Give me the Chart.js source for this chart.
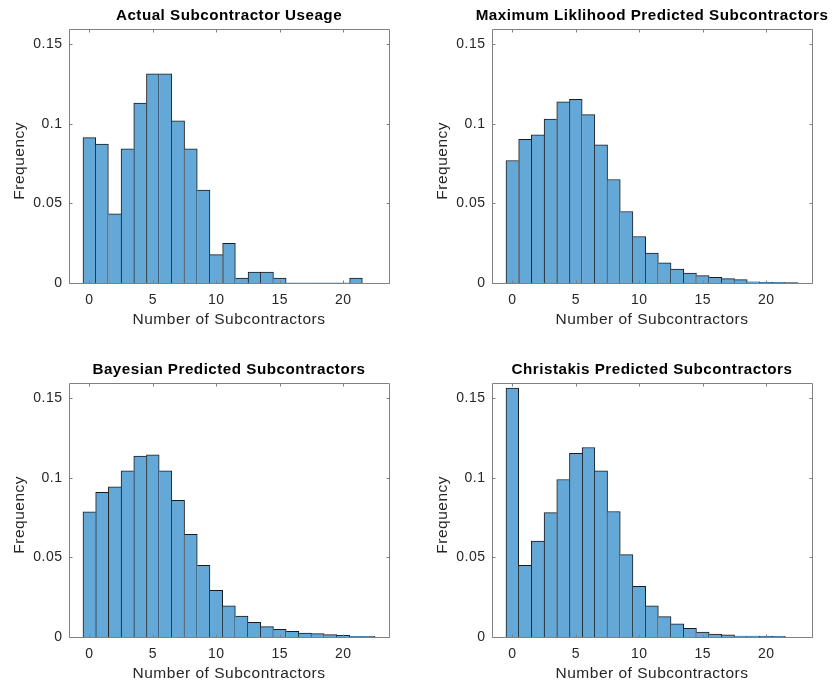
<!DOCTYPE html>
<html>
<head>
<meta charset="utf-8">
<script src="https://cdn.jsdelivr.net/npm/chart.js@4/dist/chart.umd.min.js"></script>
<style>
  body { margin: 0; background: #fff; }
  #wrap { position: relative; width: 833px; height: 687px; overflow: hidden; }
  #wrap canvas { position: absolute; }
</style>
</head>
<body>
<div id="wrap">
  <canvas id="c1"></canvas>
  <canvas id="c2"></canvas>
  <canvas id="c3"></canvas>
  <canvas id="c4"></canvas>
</div>
<script>
// bin centres (integer counts) and frequencies
const bins = [0, 1, 2, 3, 4, 5, 6, 7, 8, 9, 10, 11, 12, 13, 14, 15, 16, 17, 18, 19, 20, 21, 22];

const actualUse = [0.0913, 0.0873, 0.0435, 0.0842, 0.1130, 0.1314, 0.1314, 0.1019, 0.0842, 0.0583,
  0.0178, 0.0249, 0.0031, 0.0069, 0.0069, 0.0031, 0, 0, 0, 0, 0, 0.0031];

const mlPredicted = [0.0769, 0.0902, 0.0930, 0.1030, 0.1138, 0.1153, 0.1057, 0.0867, 0.0650, 0.0449,
  0.0292, 0.0188, 0.0127, 0.0088, 0.0063, 0.0046, 0.0036, 0.0027, 0.0021, 0.0008, 0.0004, 0.0004, 0.0002];

const bayesPredicted = [0.0786, 0.0909, 0.0943, 0.1043, 0.1136, 0.1144, 0.1043, 0.0859, 0.0645, 0.0450,
  0.0293, 0.0195, 0.0132, 0.0092, 0.0065, 0.0048, 0.0036, 0.0025, 0.0021, 0.0015, 0.0010, 0.0004, 0.0004];

const christakisPredicted = [0.1563, 0.0450, 0.0603, 0.0781, 0.0989, 0.1154, 0.1190, 0.1043, 0.0788, 0.0517,
  0.0318, 0.0195, 0.0128, 0.0082, 0.0054, 0.0031, 0.0019, 0.0013, 0.0006, 0.0006, 0.0004, 0.0004];

const xTicks = [0, 5, 10, 15, 20];
const yTicks = [0, 0.05, 0.1, 0.15];
const yTickLabels = ['0', '0.05', '0.1', '0.15'];

const panels = [
  { id: 'c1', title: 'Actual Subcontractor Useage', data: actualUse, left: 69, top: 29 },
  { id: 'c2', title: 'Maximum Liklihood Predicted Subcontractors', data: mlPredicted, left: 492, top: 29 },
  { id: 'c3', title: 'Bayesian Predicted Subcontractors', data: bayesPredicted, left: 69, top: 383 },
  { id: 'c4', title: 'Christakis Predicted Subcontractors', data: christakisPredicted, left: 492, top: 383 }
];

const PLOT_W = 320, PLOT_H = 254, SIDE = 69, HEAD = 28, FOOT = 60;
const FONT = '"Liberation Sans", Arial, Helvetica, sans-serif';
const TEXT = '#262626';
const AXIS = '#808080';
const FILL = '#64a8d8';
const EDGE = '#1a1a1a';
const TICK_LEN = 3;

// matlab text is a bit looser than canvas arial
const spacing = {
  id: 'spacing',
  beforeDraw(chart) { chart.ctx.letterSpacing = '0.5px'; }
};

// matlab style box with inward ticks on all four sides
const matlabBox = {
  id: 'matlabBox',
  afterDatasetsDraw(chart) {
    const { ctx, chartArea: a } = chart;
    const xs = chart.scales.x, ys = chart.scales.y;
    const L = Math.round(a.left) + 0.5, R = Math.round(a.right) + 0.5;
    const T = Math.round(a.top) + 0.5, B = Math.round(a.bottom) + 0.5;
    ctx.save();
    ctx.strokeStyle = AXIS;
    ctx.lineWidth = 1;
    ctx.beginPath();
    ctx.rect(L, T, R - L, B - T);
    xTicks.forEach(v => {
      const px = Math.round(xs.getPixelForValue(v)) + 0.5;
      ctx.moveTo(px, B); ctx.lineTo(px, B - TICK_LEN);
      ctx.moveTo(px, T); ctx.lineTo(px, T + TICK_LEN);
    });
    yTicks.forEach(v => {
      const py = Math.round(ys.getPixelForValue(v)) + 0.5;
      ctx.moveTo(L, py); ctx.lineTo(L + TICK_LEN, py);
      ctx.moveTo(R, py); ctx.lineTo(R - TICK_LEN, py);
    });
    ctx.stroke();
    ctx.restore();
  }
};

// draw each shared edge once, on the taller bar
function edgeWidth(vals) {
  return ctx => {
    const i = ctx.dataIndex, v = vals[i];
    if (!v) return 0;
    return {
      top: 1,
      bottom: 0,
      left: (i === 0 || v > vals[i - 1]) ? 1 : 0,
      right: (i === vals.length - 1 || v >= vals[i + 1]) ? 1 : 0
    };
  };
}

panels.forEach(p => {
  const cv = document.getElementById(p.id);
  cv.width = SIDE * 2 + PLOT_W;
  cv.height = HEAD + PLOT_H + FOOT;
  cv.style.left = (p.left - SIDE) + 'px';
  cv.style.top = (p.top - HEAD) + 'px';

  new Chart(cv, {
    type: 'bar',
    data: {
      datasets: [{
        data: p.data.map((v, i) => ({ x: bins[i], y: v })),
        backgroundColor: FILL,
        borderColor: EDGE,
        borderWidth: edgeWidth(p.data),
        borderSkipped: false,
        barPercentage: 1,
        categoryPercentage: 1
      }]
    },
    options: {
      responsive: false,
      animation: false,
      layout: { padding: 0 },
      plugins: {
        legend: { display: false },
        tooltip: { enabled: false },
        title: {
          display: true,
          text: p.title,
          color: '#000',
          font: { family: FONT, size: 15.2, weight: 'bold' },
          padding: { top: 6, bottom: 3.76 }
        }
      },
      scales: {
        x: {
          type: 'linear',
          min: -1.6,
          max: 23.6,
          offset: false,
          grid: { display: false, drawTicks: false },
          border: { display: false },
          afterBuildTicks: s => { s.ticks = xTicks.map(v => ({ value: v })); },
          afterFit: s => { s.height = FOOT; },
          ticks: {
            autoSkip: false,
            maxRotation: 0,
            padding: 9,
            color: TEXT,
            font: { family: FONT, size: 14 },
            callback: v => String(v)
          },
          title: {
            display: true,
            text: 'Number of Subcontractors',
            color: TEXT,
            font: { family: FONT, size: 15.5 },
            padding: { top: 0, bottom: 14 }
          }
        },
        y: {
          type: 'linear',
          min: 0,
          max: 0.1595,
          grid: { display: false, drawTicks: false },
          border: { display: false },
          afterBuildTicks: s => { s.ticks = yTicks.map(v => ({ value: v })); },
          afterFit: s => { s.width = SIDE; },
          ticks: {
            padding: 6.5,
            color: TEXT,
            font: { family: FONT, size: 14 },
            callback: (v, i) => yTickLabels[i]
          },
          title: {
            display: true,
            text: 'Frequency\u00a0\u00a0',
            color: TEXT,
            font: { family: FONT, size: 15.5 },
            padding: { top: 10, bottom: 0 }
          }
        },
        yR: {
          type: 'linear',
          position: 'right',
          display: true,
          grid: { display: false, drawTicks: false },
          border: { display: false },
          ticks: { display: false },
          afterFit: s => { s.width = SIDE; }
        }
      }
    },
    plugins: [spacing, matlabBox]
  });
});
</script>
</body>
</html>
